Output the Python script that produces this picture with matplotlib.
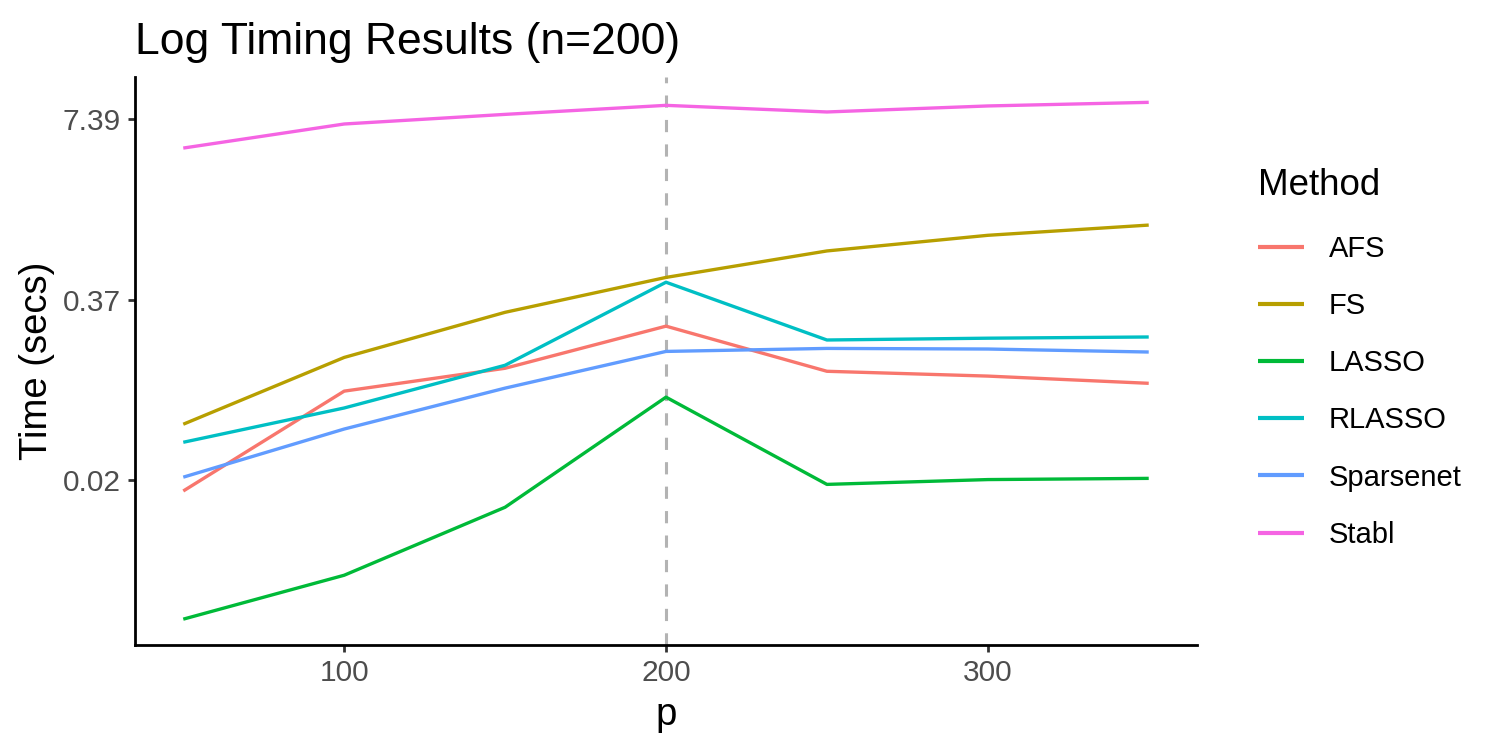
import numpy as np
import matplotlib
matplotlib.use("Agg")
import matplotlib.pyplot as plt

plt.rcParams['font.family'] = ['Liberation Sans', 'DejaVu Sans']

p_values = [50, 100, 150, 200, 250, 300, 350]
methods = ["AFS", "FS", "LASSO", "RLASSO", "Sparsenet", "Stabl"]
# log(time in secs)
log_time = {
    "AFS":       [-4.18, -2.52, -2.14, -1.44, -2.19, -2.27, -2.39],
    "FS":        [-3.07, -1.96, -1.21, -0.63, -0.19, 0.07, 0.24],
    "LASSO":     [-6.31, -5.58, -4.45, -2.62, -4.07, -3.99, -3.97],
    "RLASSO":    [-3.37, -2.80, -2.09, -0.71, -1.67, -1.64, -1.62],
    "Sparsenet": [-3.95, -3.15, -2.47, -1.86, -1.81, -1.82, -1.87],
    "Stabl":     [1.52, 1.92, 2.08, 2.23, 2.12, 2.22, 2.28],
}
colors = ["#F8766D", "#B79F00", "#00BA38", "#00BFC4", "#619CFF", "#F564E3"]
y_breaks = [-4, -1, 2]
x_breaks = [100, 200, 300]
vline_p = 200

fig = plt.figure(figsize=(15, 7.5), dpi=100)
ax = fig.add_axes([0.09, 0.14, 0.708, 0.758])

for m, c in zip(methods, colors):
    ax.plot(p_values, log_time[m], color=c, lw=2.4, label=m, solid_capstyle='butt')

ax.axvline(vline_p, color="#B3B3B3", lw=2.2, ls=(0, (4, 4)), zorder=0)

allv = np.concatenate([log_time[m] for m in methods])
lo, hi = allv.min(), allv.max()
r = hi - lo
ax.set_ylim(lo - 0.05 * r, hi + 0.05 * r)
ax.set_xlim(p_values[0] - 0.05 * (p_values[-1] - p_values[0]),
            p_values[-1] + 0.05 * (p_values[-1] - p_values[0]))

ax.set_yticks(y_breaks)
ax.set_yticklabels([f"{np.exp(b):.2f}" for b in y_breaks])
ax.set_xticks(x_breaks)
ax.set_xticklabels([str(b) for b in x_breaks])

for s in ['top', 'right']:
    ax.spines[s].set_visible(False)
for s in ['left', 'bottom']:
    ax.spines[s].set_linewidth(2.0)
    ax.spines[s].set_color('black')
ax.tick_params(axis='both', length=5, width=2.0, color='#333333',
               labelsize=21.5, labelcolor='#4D4D4D', pad=5)

ax.set_xlabel("p", fontsize=27.5, labelpad=7)
ax.set_ylabel("Time (secs)", fontsize=27.5, labelpad=6)
ax.set_title("Log Timing Results (n=200)", fontsize=32, loc='left', pad=16,
             x=0.0)

leg = ax.legend(title="Method", loc='upper left', bbox_to_anchor=(0.8385, 0.776),
                bbox_transform=fig.transFigure, frameon=False, fontsize=21,
                title_fontsize=26.5, handlelength=1.58, handletextpad=0.86,
                labelspacing=1.0, borderpad=0, borderaxespad=0)
leg._legend_box.align = "left"
leg._legend_box.sep = 23
for h in leg.get_lines():
    h.set_linewidth(3.0)

fig.savefig("out.png", dpi=100)
